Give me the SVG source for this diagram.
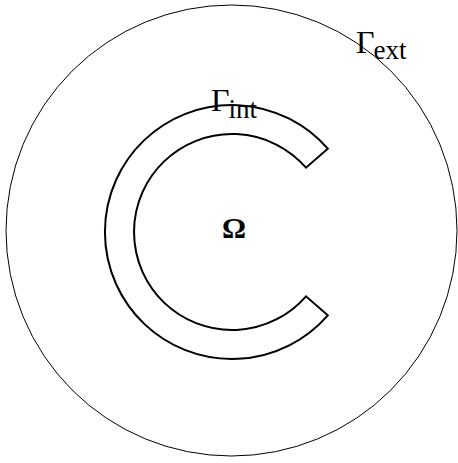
<svg xmlns="http://www.w3.org/2000/svg" width="458" height="463" viewBox="0 0 458 463">
<style>
.lbl{font-family:"Liberation Serif","Times New Roman",serif;fill:#000}
.big{font-size:32px}
.sub{font-size:27px}
</style>
<rect width="458" height="463" fill="#fff"/>
<g id="exterior">
<circle cx="231.5" cy="230.5" r="225.5" fill="none" stroke="#000" stroke-width="1"/>
</g>
<g id="obstacle">
<path d="M 327.8 148.7 A 127 127 0 1 0 327.8 315.3 L 306 296.3 A 98 98 0 1 1 306 167.7 Z" fill="none" stroke="#000" stroke-width="2" stroke-linejoin="miter"/>
</g>
<g id="labels">
<text class="lbl big" x="211" y="111">Γ<tspan class="sub" dx="-1" dy="7">int</tspan></text>
<text class="lbl big" x="356" y="53">Γ<tspan class="sub" dx="-1" dy="6">ext</tspan></text>
<text class="lbl" x="234" y="238" text-anchor="middle" font-size="30" font-weight="bold">Ω</text>
</g>
</svg>
